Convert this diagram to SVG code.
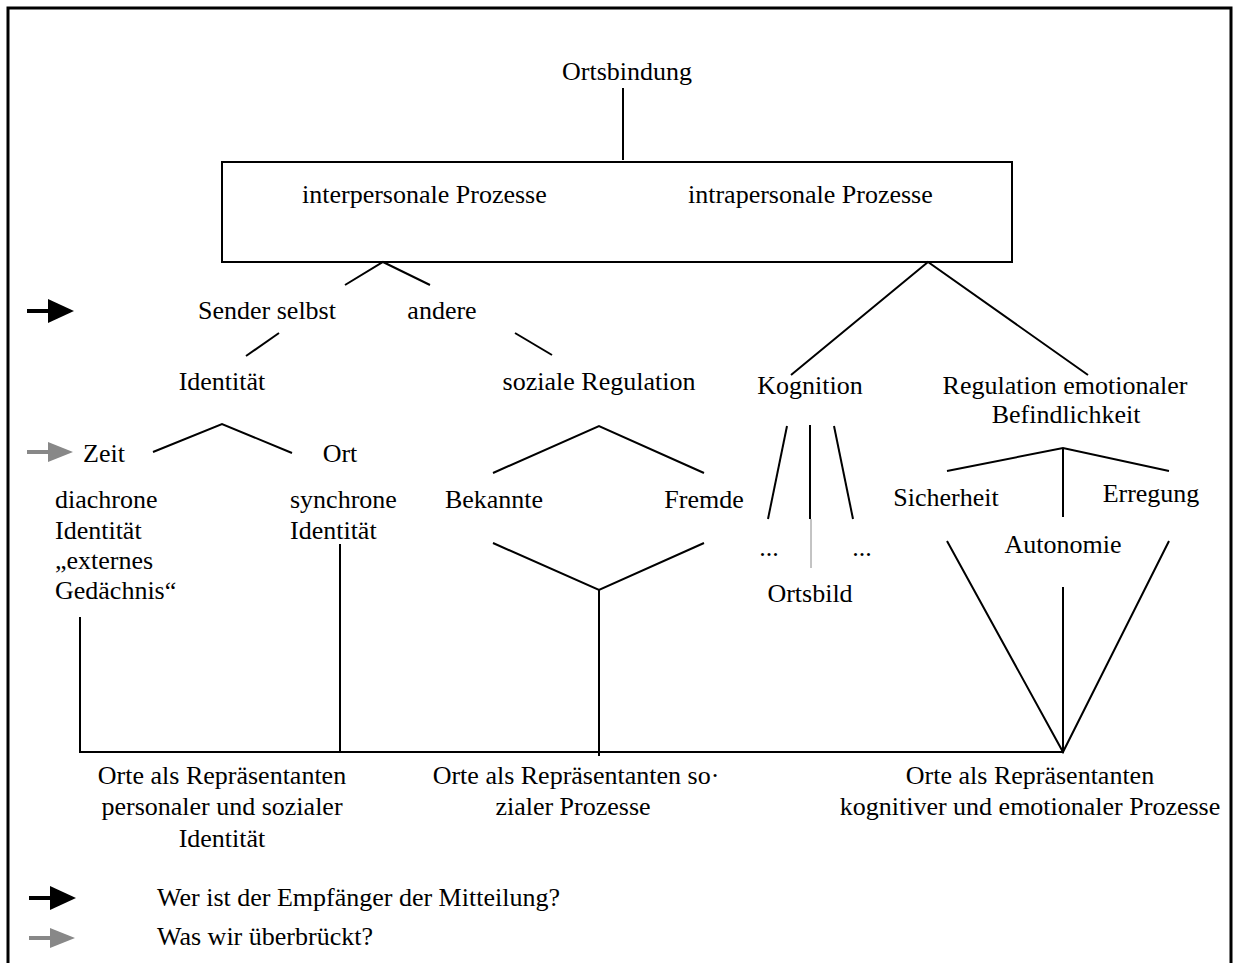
<svg xmlns="http://www.w3.org/2000/svg" width="1235" height="963" viewBox="0 0 1235 963">
<style>
text{font-family:"Liberation Serif","Times New Roman",serif;font-size:26px;fill:#000}
.m{text-anchor:middle}
.ln{stroke:#000;stroke-width:2;fill:none}
</style>
<defs>
<g id="arrowBlack"><line x1="27" y1="0" x2="52" y2="0" stroke="#000" stroke-width="4"/><polygon points="48,-12 74,0 48,12" fill="#000"/></g>
<g id="arrowGray"><line x1="27" y1="0" x2="52" y2="0" stroke="#888" stroke-width="4"/><polygon points="48,-10 73,0 48,10" fill="#888"/></g>
</defs>
<rect width="1235" height="963" fill="#fff"/>
<g id="frame"><polyline points="8,963 8,8 1231,8 1231,963" fill="none" stroke="#000" stroke-width="3"/></g>
<g id="connectors">
<line class="ln" x1="623" y1="88" x2="623" y2="160"/>
<polyline class="ln" points="345,285 383,262 430,285"/>
<polyline class="ln" points="791,375 928,262 1088,375"/>
<line class="ln" x1="246" y1="356" x2="279" y2="333"/>
<line class="ln" x1="515" y1="333" x2="552" y2="355"/>
<polyline class="ln" points="153,452 222,424 292,453"/>
<polyline class="ln" points="493,473 599,426 704,473"/>
<polyline class="ln" points="493,543 599,590 704,543"/>
<line class="ln" x1="599" y1="590" x2="599" y2="756"/>
<line class="ln" x1="787" y1="426" x2="768" y2="519"/>
<line class="ln" x1="810" y1="425" x2="810" y2="519"/>
<line x1="811" y1="519" x2="811" y2="568" stroke="#888" stroke-width="1"/>
<line class="ln" x1="834" y1="426" x2="853" y2="519"/>
<polyline class="ln" points="947,471 1063,448 1169,471"/>
<line class="ln" x1="1063" y1="448" x2="1063" y2="517"/>
<polyline class="ln" points="947,541 1063,752 1169,541"/>
<line class="ln" x1="1063" y1="587" x2="1063" y2="752"/>
<line class="ln" x1="80" y1="617" x2="80" y2="752"/>
<line class="ln" x1="340" y1="544" x2="340" y2="752"/>
<line class="ln" x1="79" y1="752" x2="1064" y2="752"/>
</g>
<g id="n-ortsbindung"><text class="m" x="627" y="80">Ortsbindung</text></g>
<g id="n-prozesse"><rect x="222" y="162" width="790" height="100" fill="none" stroke="#000" stroke-width="2"/>
<text x="302" y="203">interpersonale Prozesse</text><text x="688" y="203">intrapersonale Prozesse</text></g>
<g id="n-sender"><text class="m" x="267" y="319">Sender selbst</text></g>
<g id="n-andere"><text class="m" x="442" y="319">andere</text></g>
<g id="n-identitaet"><text class="m" x="222" y="390">Identität</text></g>
<g id="n-sozreg"><text class="m" x="599" y="390">soziale Regulation</text></g>
<g id="n-kognition"><text class="m" x="810" y="394">Kognition</text></g>
<g id="n-regemo"><text class="m" x="1065" y="394">Regulation emotionaler</text><text class="m" x="1066" y="423">Befindlichkeit</text></g>
<g id="n-zeit"><text x="83" y="462">Zeit</text></g>
<g id="n-ort"><text class="m" x="340" y="462">Ort</text></g>
<g id="n-diachron"><text x="55" y="508">diachrone</text><text x="55" y="539">Identität</text><text x="55" y="569">„externes</text><text x="55" y="599">Gedächnis“</text></g>
<g id="n-synchron"><text x="290" y="508">synchrone</text><text x="290" y="539">Identität</text></g>
<g id="n-bekannte"><text class="m" x="494" y="508">Bekannte</text></g>
<g id="n-fremde"><text class="m" x="704" y="508">Fremde</text></g>
<g id="n-dots1"><text class="m" x="769" y="556">...</text></g>
<g id="n-dots2"><text class="m" x="862" y="556">...</text></g>
<g id="n-ortsbild"><text class="m" x="810" y="602">Ortsbild</text></g>
<g id="n-sicherheit"><text class="m" x="946" y="506">Sicherheit</text></g>
<g id="n-erregung"><text class="m" x="1151" y="502">Erregung</text></g>
<g id="n-autonomie"><text class="m" x="1063" y="553">Autonomie</text></g>
<g id="n-orte1"><text class="m" x="222" y="784">Orte als Repräsentanten</text><text class="m" x="222" y="815">personaler und sozialer</text><text class="m" x="222" y="847">Identität</text></g>
<g id="n-orte2"><text class="m" x="576" y="784">Orte als Repräsentanten so·</text><text class="m" x="573" y="815">zialer Prozesse</text></g>
<g id="n-orte3"><text class="m" x="1030" y="784">Orte als Repräsentanten</text><text class="m" x="1030" y="815">kognitiver und emotionaler Prozesse</text></g>
<g id="arrows">
<use href="#arrowBlack" x="0" y="311"/>
<use href="#arrowGray" x="0" y="452"/>
<use href="#arrowBlack" x="2" y="898"/>
<use href="#arrowGray" x="2" y="938"/>
</g>
<g id="legend"><text x="157" y="906">Wer ist der Empfänger der Mitteilung?</text><text x="157" y="945">Was wir überbrückt?</text></g>
</svg>
